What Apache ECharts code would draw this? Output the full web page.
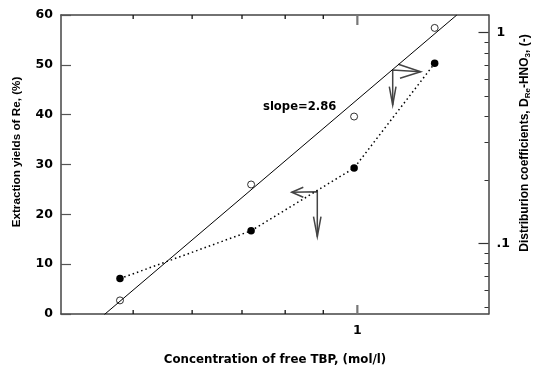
<!DOCTYPE html>
<html>
<head>
<meta charset="utf-8">
<script src="https://cdn.jsdelivr.net/npm/echarts@6/dist/echarts.min.js"></script>
<style>
html,body{margin:0;padding:0;background:#fff;}
#c{width:533px;height:372px;}
</style>
</head>
<body>
<div id="c"></div>
<script>
// ---- data ----
const tbp = [0.48, 0.72, 0.99, 1.27];          // free TBP concentration (mol/l)
const yieldPct = [7.1, 16.7, 29.3, 50.3];      // extraction yields of Re (%)
const dCoef = [0.0536, 0.190, 0.399, 1.05];    // distribution coefficients D
const fitTbp = [0.457, 1.36];                  // fitted line (slope=2.86) ends
const fitD = [0.0458, 1.209];
const xRange = [0.4, 1.5];
const yLeftRange = [0, 60];
const yRightRange = [0.0462, 1.209];
const xMajorTicks = [1];
const xMinorTicks = [0.5, 0.6, 0.7, 0.8, 0.9];
const yRightMajor = [0.1, 1];
const yRightMinor = [0.05, 0.06, 0.07, 0.08, 0.09, 0.2, 0.3, 0.4, 0.5, 0.6, 0.7, 0.8, 0.9];
const xTitle = 'Concentration of free TBP, (mol/l)';
const yLeftTitle = 'Extraction yields of Re, (%)';
const slopeText = 'slope=2.86';

const zip = (a, b) => a.map((v, i) => [v, b[i]]);
const hFont = 'DejaVu Sans';
const vFont = 'Liberation Sans';
const frame = { show: true, onZero: false, lineStyle: { color: '#444', width: 1.5 } };
const noLine = { show: false, onZero: false };
const gridRect = { left: 61, right: 44.5, top: 15, bottom: 58 };
const tick = (len, vals, color, w) => ({ show: true, inside: true, length: len, customValues: vals, lineStyle: { color: color, width: w } });

// x-axis tick marks drawn by a custom series, positioned via the axes' scales
const xTickSeries = (vals, lenBottom, lenTop, color, width) => ({
  type: 'custom', xAxisIndex: 0, yAxisIndex: 0, silent: true, clip: false, z: 5,
  data: vals.map(v => [v]),
  encode: { x: 0 },
  renderItem: function (params, api) {
    const v = api.value(0);
    const b = api.coord([v, yLeftRange[0]]);
    const t = api.coord([v, yLeftRange[1]]);
    return {
      type: 'group',
      children: [
        { type: 'line', shape: { x1: b[0], y1: b[1], x2: b[0], y2: b[1] - lenBottom }, style: { stroke: color, lineWidth: width } },
        { type: 'line', shape: { x1: t[0], y1: t[1], x2: t[0], y2: t[1] + lenTop }, style: { stroke: color, lineWidth: width } }
      ]
    };
  }
});

const chart = echarts.init(document.getElementById('c'), null, { renderer: 'canvas' });
chart.setOption({
  animation: false,
  backgroundColor: '#fff',
  grid: [Object.assign({}, gridRect), Object.assign({}, gridRect)],
  xAxis: [
    { gridIndex: 0, type: 'log', position: 'bottom', min: xRange[0], max: xRange[1],
      axisLine: frame, splitLine: { show: false }, axisTick: { show: false },
      axisLabel: { customValues: xMajorTicks, margin: 10, formatter: v => String(v),
        color: '#000', fontFamily: hFont, fontWeight: 'bold', fontSize: 12.5 } },
    { gridIndex: 0, type: 'log', position: 'top', min: xRange[0], max: xRange[1],
      axisLine: frame, splitLine: { show: false }, axisTick: { show: false },
      axisLabel: { show: false } },
    { gridIndex: 1, type: 'log', position: 'bottom', min: xRange[0], max: xRange[1],
      axisLine: noLine, splitLine: { show: false }, axisTick: { show: false },
      axisLabel: { show: false } }
  ],
  yAxis: [
    { gridIndex: 0, type: 'value', position: 'left', min: yLeftRange[0], max: yLeftRange[1], interval: 10,
      axisLine: frame, splitLine: { show: false },
      axisTick: { show: true, inside: true, length: 10, lineStyle: { color: '#555', width: 1.2 } },
      axisLabel: { margin: 8, color: '#000', fontFamily: hFont, fontWeight: 'bold', fontSize: 12.5 } },
    { gridIndex: 0, type: 'log', position: 'right', min: yRightRange[0], max: yRightRange[1],
      axisLine: frame, splitLine: { show: false },
      axisTick: tick(10, yRightMajor, '#333', 1.2),
      axisLabel: { customValues: yRightMajor, margin: 8, formatter: v => (v >= 1 ? '1' : '.1'),
        color: '#000', fontFamily: hFont, fontWeight: 'bold', fontSize: 12.5 } },
    { gridIndex: 1, type: 'log', position: 'right', min: yRightRange[0], max: yRightRange[1],
      axisLine: noLine, splitLine: { show: false },
      axisTick: tick(4, yRightMinor, '#333', 1),
      axisLabel: { show: false } }
  ],
  series: [
    xTickSeries(xMinorTicks, 4, 4, '#111', 1.3),
    xTickSeries(xMajorTicks, 9, 10, '#777', 2.2),
    { name: 'fit', type: 'line', xAxisIndex: 0, yAxisIndex: 1, data: zip(fitTbp, fitD),
      showSymbol: false, symbol: 'none', clip: true, silent: true,
      lineStyle: { color: '#000', width: 1 } },
    { name: 'yield', type: 'line', xAxisIndex: 0, yAxisIndex: 0, data: zip(tbp, yieldPct),
      symbol: 'circle', symbolSize: 7.5, showSymbol: true,
      itemStyle: { color: '#000' },
      lineStyle: { color: '#000', width: 1.5, type: [1.5, 3] } },
    { name: 'D', type: 'scatter', xAxisIndex: 0, yAxisIndex: 1, data: zip(tbp, dCoef),
      symbol: 'circle', symbolSize: 7,
      itemStyle: { color: '#fff', borderColor: '#000', borderWidth: 1 } }
  ],
  graphic: [
    { type: 'text', x: 275, y: 360, silent: true,
      style: { text: xTitle, fill: '#000', font: 'bold 11.8px "' + hFont + '"', textAlign: 'center', textVerticalAlign: 'middle' } },
    { type: 'text', x: 17, y: 152, rotation: Math.PI / 2, silent: true,
      style: { text: yLeftTitle, fill: '#000', font: 'bold 11.7px "' + vFont + '"', textAlign: 'center', textVerticalAlign: 'middle' } },
    { type: 'text', x: 525, y: 143, rotation: Math.PI / 2, silent: true,
      style: { text: 'Distriburion coefficients, D{s|Re}-HNO{s|3}, (-)', fill: '#000',
        fontFamily: vFont, fontWeight: 'bold', fontSize: 12, lineHeight: 14,
        textAlign: 'center', textVerticalAlign: 'middle',
        rich: { s: { fontFamily: vFont, fontWeight: 'bold', fontSize: 8, verticalAlign: 'bottom', fill: '#000' } } } },
    { type: 'text', x: 263, y: 107, silent: true,
      style: { text: slopeText, fill: '#000', font: 'bold 11.6px "' + hFont + '"', textAlign: 'left', textVerticalAlign: 'middle' } },
    // upper arrow annotation
    { type: 'polyline', silent: true, shape: { points: [[392.7, 105], [392.7, 70], [420.7, 71.7]] }, style: { stroke: '#444', lineWidth: 1.5, fill: null } },
    { type: 'polyline', silent: true, shape: { points: [[398.3, 64.3], [420.7, 71.7], [400, 78.3]] }, style: { stroke: '#444', lineWidth: 1.5, fill: null } },
    { type: 'polyline', silent: true, shape: { points: [[389.3, 86.7], [392.7, 105], [396, 86.7]] }, style: { stroke: '#444', lineWidth: 1.5, fill: null } },
    // lower arrow annotation
    { type: 'polyline', silent: true, shape: { points: [[291.7, 192.3], [317.3, 191.7], [317.3, 236.7]] }, style: { stroke: '#444', lineWidth: 1.5, fill: null } },
    { type: 'polyline', silent: true, shape: { points: [[303.3, 187.3], [291.7, 192.3], [303.3, 197.3]] }, style: { stroke: '#444', lineWidth: 1.5, fill: null } },
    { type: 'polyline', silent: true, shape: { points: [[313.5, 216.7], [317.3, 236.7], [321, 216.7]] }, style: { stroke: '#444', lineWidth: 1.5, fill: null } }
  ]
});
</script>
</body>
</html>
